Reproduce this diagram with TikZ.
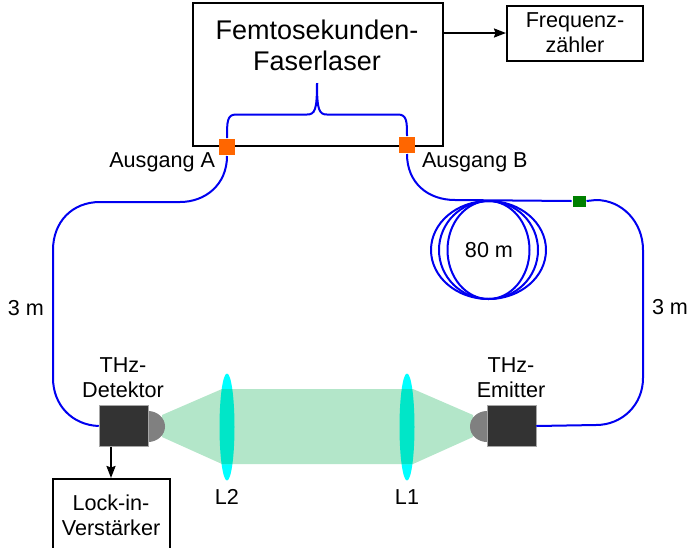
\documentclass[tikz,border=0pt]{standalone}
\usepackage{fontspec}
\setmainfont{Liberation Sans}
\usetikzlibrary{arrows.meta, positioning, shapes.geometric, calc}
\definecolor{cfibre}{HTML}{0000F0}
\definecolor{cport}{HTML}{FF6600}
\definecolor{csplice}{HTML}{008000}
\definecolor{cbeam}{HTML}{B3E6C9}
\definecolor{clens}{HTML}{00FFFF}
\definecolor{coverlap}{HTML}{00E6C8}
\definecolor{chead}{HTML}{333333}
\definecolor{cdome}{HTML}{808080}
\tikzset{
  every picture/.style={x=1pt, y=-1pt, line width=2pt},
  box/.style={draw=black, fill=white, align=center, inner sep=0pt, line width=2pt},
  arrow/.style={-{Stealth[length=12pt, width=9pt, inset=1.5pt]}, draw=black, line width=2pt},
  fibre/.style={draw=cfibre, line width=2pt},
  port/.style={fill=cport, minimum size=16pt, inner sep=0pt},
  splicebox/.style={fill=csplice, minimum width=13pt, minimum height=11pt, inner sep=0pt},
  head/.style={fill=chead, draw=cdome!70, line width=0.5pt, minimum width=49pt, minimum height=41pt, inner sep=0pt},
  lens/.style={ellipse, fill=clens, minimum width=15pt, minimum height=107pt, inner sep=0pt},
  note/.style={font=\fontsize{21.6}{25}\selectfont, align=center, inner sep=0pt},
}
\begin{document}
\begin{tikzpicture}
  \useasboundingbox (0,0) rectangle (688,547);
  % laser and counter
  \node[box, minimum width=250pt, minimum height=143pt] (laser) at (318,74) {};
  \node[font=\fontsize{27}{31}\selectfont, align=center, inner sep=0pt] (lasertext) at (317,45) {Femtosekunden-\\Faserlaser};
  \node[box, note, minimum width=136pt, minimum height=55pt] (counter) at (575,33) {Frequenz-\\zähler};
  \draw[arrow] (laser.east |- counter.west) -- (counter.west);
  % lenses and beam
  \node[lens] (lensL2) at (227,427) {};
  \node[lens] (lensL1) at (407,427) {};
  \fill[cbeam] (162,415) -- (222,389) -- (413,389) -- (473,415) -- (473,437) -- (413,464) -- (222,464) -- (162,437) -- cycle;
  \begin{scope}
    \clip (162,415) -- (222,389) -- (413,389) -- (473,415) -- (473,437) -- (413,464) -- (222,464) -- (162,437) -- cycle;
    \fill[coverlap] (lensL2) ellipse[x radius=7.5, y radius=53.5];
    \fill[coverlap] (lensL1) ellipse[x radius=7.5, y radius=53.5];
  \end{scope}
  % ports and heads
  \node[port] (portA) at (227,147) {};
  \node[port] (portB) at (407,145) {};
  \node[splicebox] (splice) at (579,201) {};
  \coordinate (split) at (317,83);
  \coordinate (leftA) at (180,202);
  \coordinate (leftB) at (100,202);
  \coordinate (rightA) at (455,200);
  \fill[cdome] (148,411) arc[start angle=-90, end angle=90, x radius=17, y radius=15.5] -- cycle;
  \fill[cdome] (487,411) arc[start angle=-90, end angle=-270, x radius=17, y radius=15.5] -- cycle;
  \node[head] (detektor) at (123.5,426) {};
  \node[head] (emitter) at (511.5,426) {};
  % fibres
  \begin{scope}[fibre]
    \draw (portA.north) .. controls (227,122) and (227,114.5) .. (236,114.5) -- (307,114.5) .. controls (315,114.5) and (317,110) .. (split);
    \draw (portB.north) .. controls (407,122) and (407,114.5) .. (398,114.5) -- (327,114.5) .. controls (319,114.5) and (317,110) .. (split);
    \draw (portA.south) .. controls (227,185) and (205,202) .. (leftA) -- (leftB) .. controls (72,202) and (53,222) .. (53,250) -- (53,378) .. controls (53,405) and (72,425) .. (detektor.west);
    \draw (portB.south) .. controls (407,183) and (428,200) .. (rightA) -- (splice.west);
    \draw (splice.east) -- (596,200) .. controls (622,200) and (643,222) .. (643,250) -- (643,378) .. controls (643,405) and (622,425) .. (596,425) -- (emitter.east);
    \foreach \r in {41,49.5,57.5} \draw (488.5,250) ellipse[x radius=\r, y radius=49];
  \end{scope}
  % lock-in
  \node[box, note, minimum width=117pt, minimum height=72pt, anchor=north] (lockin) at (111,478) {Lock-in-\\Verstärker};
  \draw[arrow] (detektor.south -| lockin.north) -- (lockin.north);
  % labels
  \node[note, anchor=east] (labelA) at (216,162) {Ausgang A};
  \node[note, anchor=west] (labelB) at (421,162) {Ausgang B};
  \node[note] (lenL) at (26,308) {3 m};
  \node[note] (lenR) at (670,307) {3 m};
  \node[note] (coil) at (489,250) {80 m};
  \node[note] (thzD) at (123,378) {THz-\\Detektor};
  \node[note] (thzE) at (511,378) {THz-\\Emitter};
  \node[note] (nameL2) at (227,497) {L2};
  \node[note] (nameL1) at (407,497) {L1};
\end{tikzpicture}
\end{document}
